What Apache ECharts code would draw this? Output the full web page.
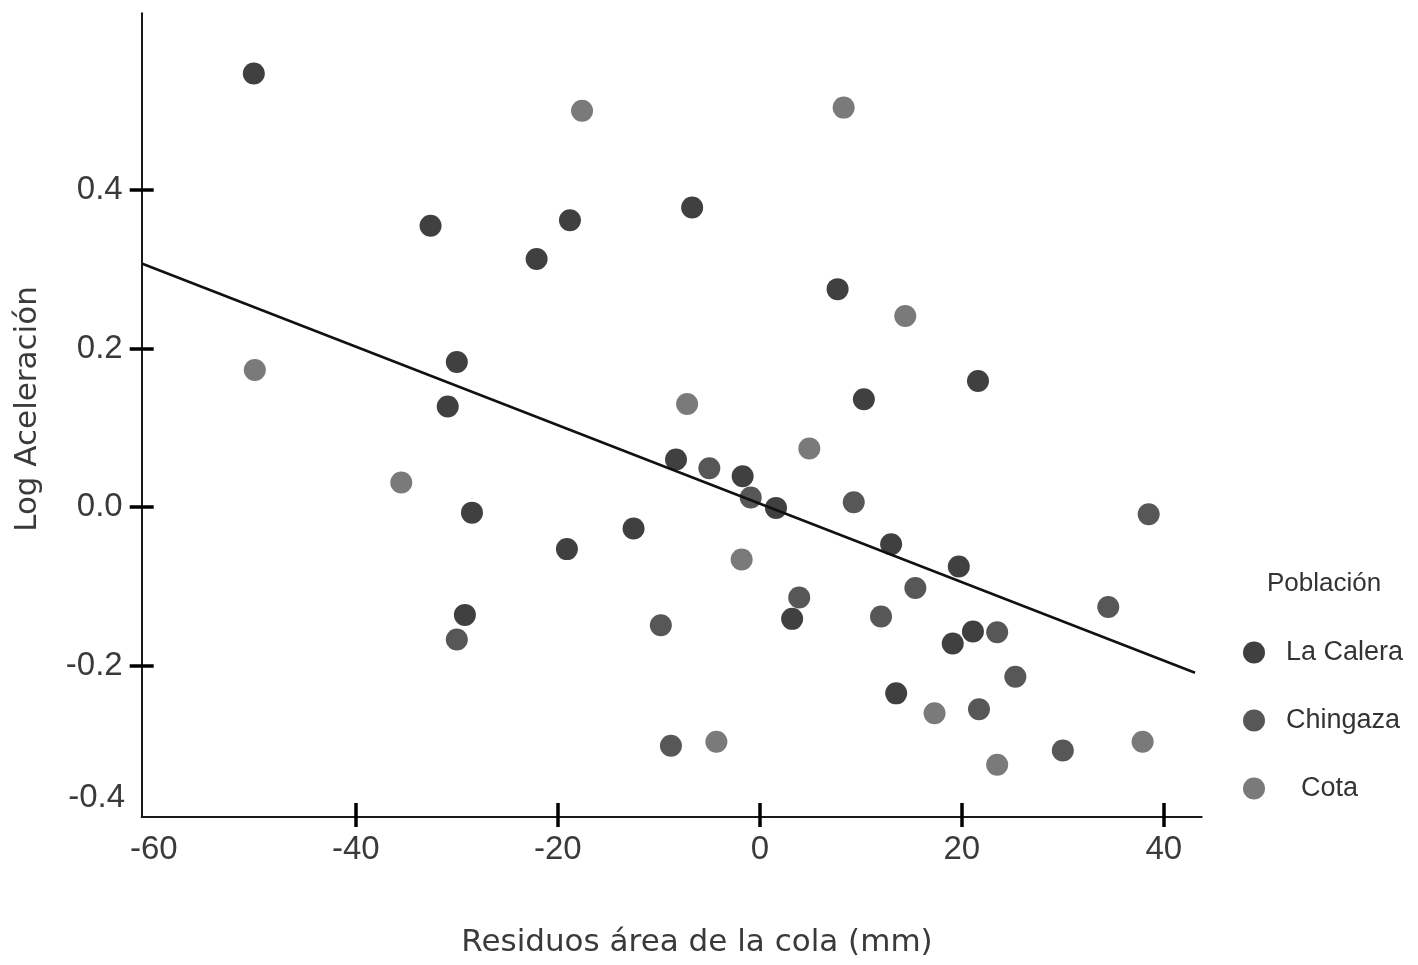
<!DOCTYPE html>
<html>
<head>
<meta charset="utf-8">
<script src="https://cdn.jsdelivr.net/npm/echarts@6/dist/echarts.min.js"></script>
<style>
  html,body{margin:0;padding:0;background:#fff;}
  #chart{width:1418px;height:965px;}
</style>
</head>
<body>
<div id="chart"></div>
<script>
// data: [residuo area cola (mm), log aceleracion]
var laCalera=[
  [-50.1,0.547],[-32.6,0.355],[-18.8,0.362],[-6.7,0.378],[-22.1,0.313],
  [7.7,0.275],[-30.0,0.183],[-30.9,0.127],[21.6,0.159],[10.3,0.136],
  [-8.3,0.060],[-1.7,0.039],[1.6,-0.001],[-28.5,-0.007],[-19.1,-0.053],
  [-12.5,-0.027],[13.0,-0.047],[19.7,-0.075],[3.2,-0.141],[-29.2,-0.136],
  [21.1,-0.157],[19.1,-0.172],[13.5,-0.235]
];
var chingaza=[
  [-5.0,0.049],[-0.9,0.012],[9.3,0.006],[38.5,-0.009],[15.4,-0.102],
  [3.9,-0.114],[12.0,-0.138],[-9.8,-0.149],[-30.0,-0.167],[23.5,-0.158],
  [34.5,-0.126],[25.3,-0.214],[21.7,-0.255],[-8.8,-0.301],[30.0,-0.307]
];
var cota=[
  [-17.6,0.500],[8.3,0.504],[14.4,0.241],[-50.0,0.173],[-7.2,0.130],
  [4.9,0.074],[-35.5,0.031],[-1.8,-0.066],[17.3,-0.260],[-4.3,-0.296],
  [37.9,-0.296],[23.5,-0.325]
];
// fitted line end points
var regresion=[[-61.13,0.307],[43.09,-0.209]];

var xTicks=[-40,-20,0,20,40];
var xLabels=[-60,-40,-20,0,20,40];
var yTicks=[-0.2,0,0.2,0.4];
var yLabels=[-0.2,0,0.2,0.4];

var poblaciones=['La Calera','Chingaza','Cota'];
var colores=['#404040','#575757','#7a7a7a'];

var xMin=-61.2,xMax=43.75,yMin=-0.391,yMax=0.623;
var lineCol='#1a1a1a';
var labelFont={color:'#3a3a3a',fontFamily:'Liberation Sans',fontSize:33};

function axisX(inside){
  return {
    type:'value',min:xMin,max:xMax,position:'bottom',
    axisLine:{show:!inside,onZero:false,lineStyle:{color:lineCol,width:2}},
    axisTick:{show:true,inside:inside,length:inside?14:10,customValues:xTicks,
      lineStyle:{color:'#000',width:3.5}},
    axisLabel:inside?{show:false}:Object.assign({show:true,margin:16,customValues:xLabels},labelFont),
    splitLine:{show:false}
  };
}
function axisY(inside){
  return {
    type:'value',min:yMin,max:yMax,position:'left',
    axisLine:{show:!inside,onZero:false,lineStyle:{color:lineCol,width:2}},
    axisTick:{show:true,inside:inside,length:12,customValues:yTicks,
      lineStyle:{color:'#000',width:3.5}},
    axisLabel:inside?{show:false}:Object.assign({show:true,margin:19,customValues:yLabels,
      formatter:function(v){return v.toFixed(1);}},labelFont),
    splitLine:{show:false}
  };
}

var chart=echarts.init(document.getElementById('chart'));
var option={
  backgroundColor:'#fff',
  animation:false,
  grid:{left:141.7,right:216.3,top:13.3,bottom:148},
  title:{
    text:'Población',left:1262,top:566,
    textStyle:{fontFamily:'Liberation Sans',fontSize:26,fontWeight:'normal',color:'#333'}
  },
  legend:{
    data:poblaciones,orient:'vertical',left:1238,top:634,
    itemWidth:54,itemHeight:22,itemGap:41,icon:'circle',
    formatter:function(n){return n==='Cota'?'  '+n:n;},
    textStyle:{fontFamily:'Liberation Sans',fontSize:27,color:'#333'}
  },
  xAxis:[axisX(false),axisX(true)],
  yAxis:[axisY(false),axisY(true)],
  graphic:[
    {type:'text',x:125,y:798,style:{text:'-0.4',textAlign:'right',textVerticalAlign:'middle',
      fill:'#3a3a3a',font:'33px "Liberation Sans"'}},
    {type:'text',x:697,y:943,style:{text:'Residuos área de la cola (mm)',textAlign:'center',
      textVerticalAlign:'middle',fill:'#3a3a3a',font:'31px "DejaVu Sans"'}},
    {type:'text',x:28,y:409,rotation:Math.PI/2,style:{text:'Log Aceleración',textAlign:'center',
      textVerticalAlign:'middle',fill:'#3a3a3a',font:'31px "DejaVu Sans"'}}
  ],
  series:[
    {name:'regresion',type:'line',data:regresion,showSymbol:false,symbol:'none',z:3,
      lineStyle:{color:'#111',width:2.5},silent:true},
    {name:poblaciones[0],type:'scatter',data:laCalera,symbolSize:22,z:2,itemStyle:{color:colores[0],opacity:1}},
    {name:poblaciones[1],type:'scatter',data:chingaza,symbolSize:22,z:2,itemStyle:{color:colores[1],opacity:1}},
    {name:poblaciones[2],type:'scatter',data:cota,symbolSize:22,z:2,itemStyle:{color:colores[2],opacity:1}}
  ]
};
chart.setOption(option);
</script>
</body>
</html>
